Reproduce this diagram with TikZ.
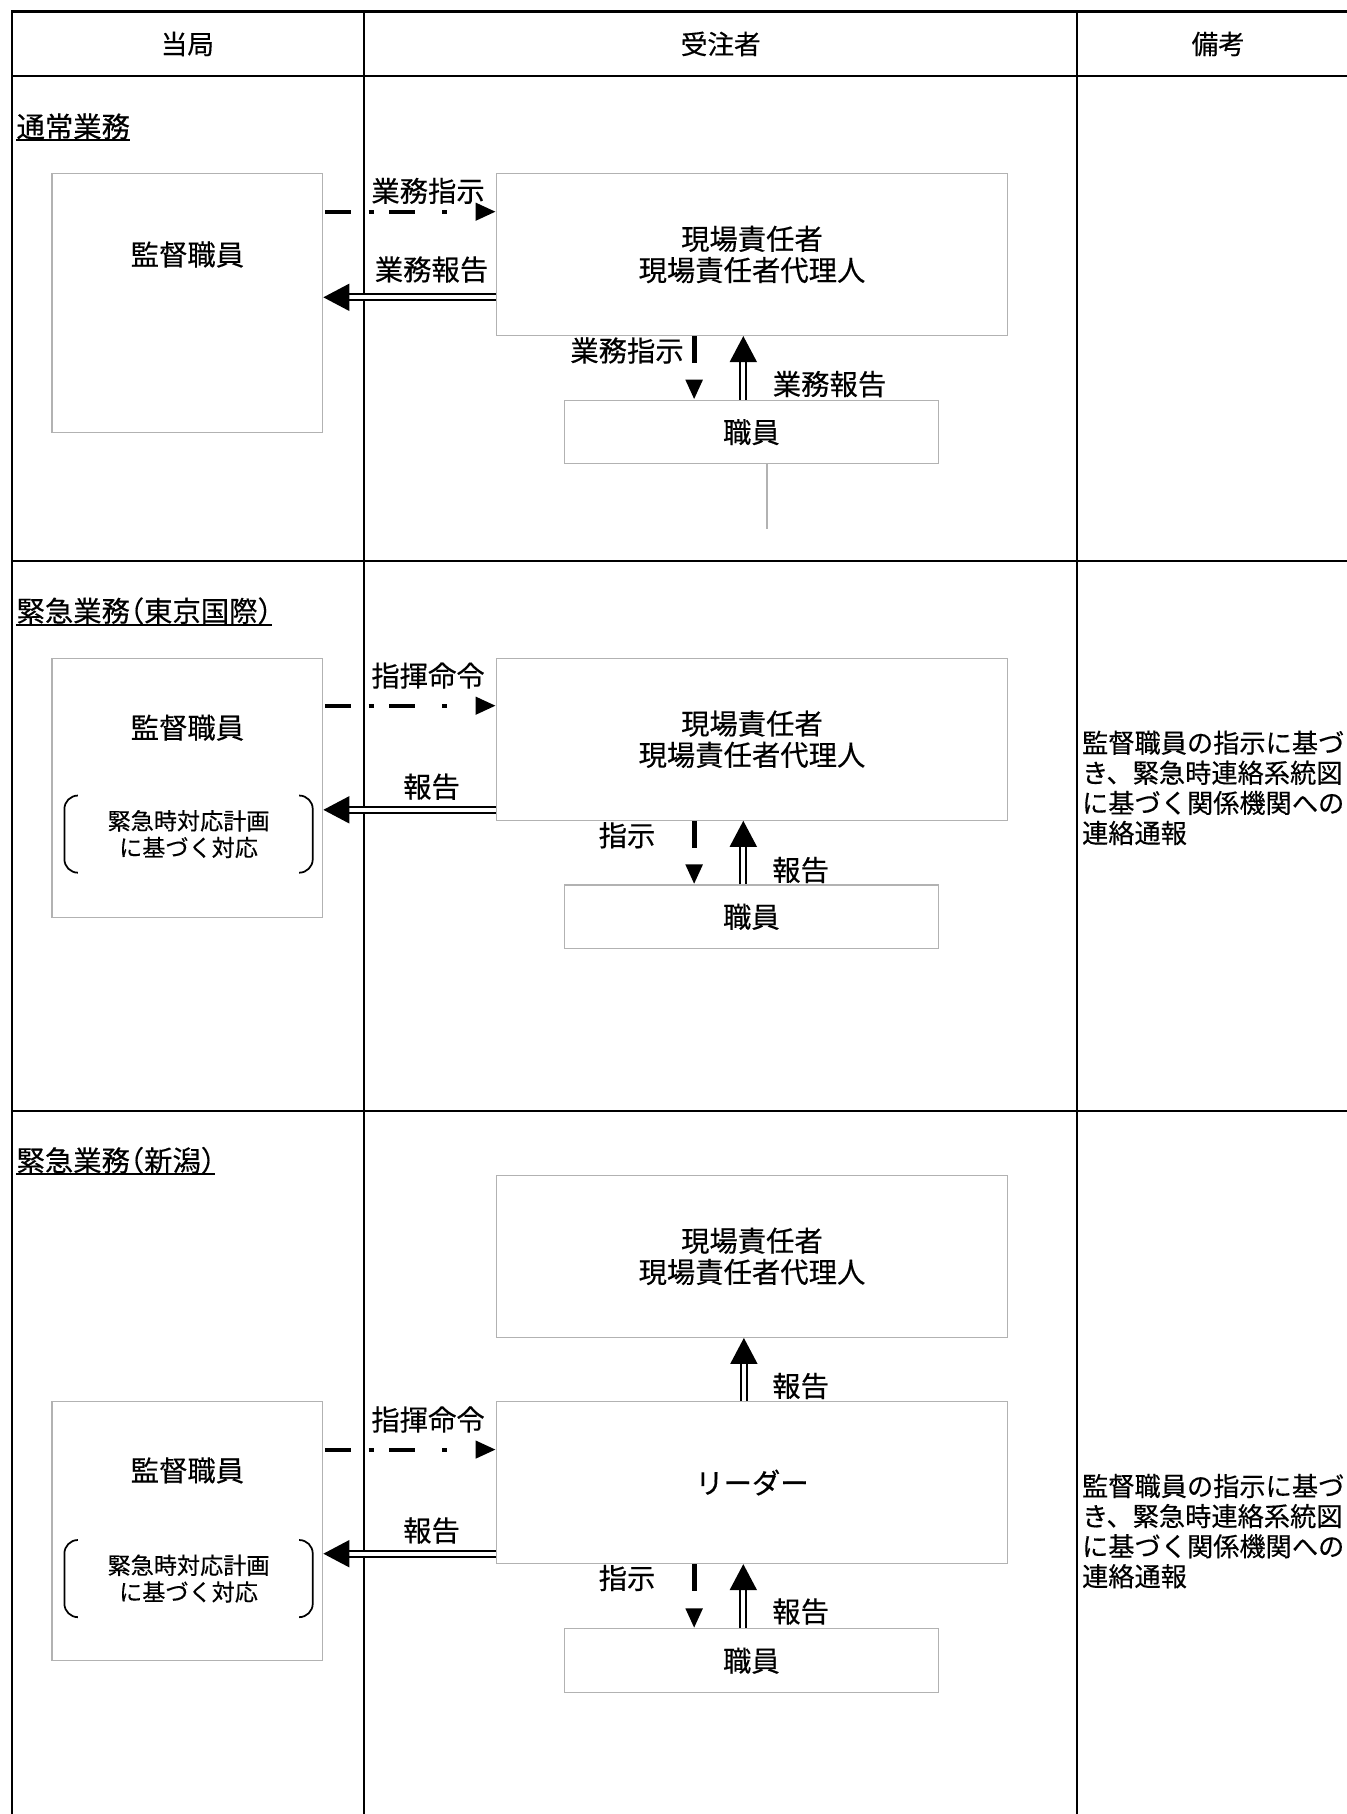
\documentclass[tikz,border=0pt]{standalone}
\usepackage{fontspec}
\setmainfont{Noto Sans CJK JP}[FakeBold=0.35]
\newfontfamily\halffont{Noto Sans CJK JP}[FakeBold=0.35, RawFeature=+halt]
\usetikzlibrary{arrows.meta,positioning,calc}

\begin{document}
\begin{tikzpicture}[x=0.6pt, y=-0.6pt]

  \newcommand{\kakko}[1]{%
    \draw[brk] ($(#1.north west)+(11,0)$) -- (#1.north west) -- (#1.south west) -- ($(#1.south west)+(11,0)$);
    \draw[brk] ($(#1.north east)+(-11,0)$) -- (#1.north east) -- (#1.south east) -- ($(#1.south east)+(-11,0)$);}
  \tikzset{
    tline/.style = {line width=1.1pt},
    txt/.style = {font=\fontsize{14.7pt}{16.2pt}\selectfont, inner sep=1pt},
    hd/.style = {font=\fontsize{13.8pt}{16pt}\selectfont},
    sect/.style = {txt, font=\halffont\fontsize{14.7pt}{16.2pt}\selectfont, anchor=south west, inner sep=0pt},
    uline/.style = {line width=1.2pt},
    kbox/.style = {draw=gray!60, line width=0.6pt, minimum width=140.4pt, minimum height=134.4pt, inner sep=0pt},
    gbox/.style = {txt, draw=gray!60, line width=0.6pt, align=center, minimum width=265.2pt, minimum height=84pt},
    sbox/.style = {txt, draw=gray!60, line width=0.6pt, minimum width=193.8pt, minimum height=33pt},
    bk/.style = {font=\fontsize{12pt}{13.8pt}\selectfont, align=center, minimum width=128.4pt, minimum height=39.6pt, inner sep=0pt},
    brk/.style = {line width=0.9pt, rounded corners=7pt},
    note/.style = {font=\fontsize{13.6pt}{15.6pt}\selectfont, align=left, anchor=west, inner sep=0pt},
    cmd/.style = {line width=2.1pt, shorten <=1pt,
      dash pattern=on 13.5pt off 9pt on 2.6pt off 8pt on 13.5pt off 14pt on 2.6pt off 20pt,
      -{Triangle[length=10.4pt,width=8.8pt]}},
    rep/.style = {double, line width=1pt, double distance=2.2pt,
      -{Triangle[length=13.5pt,width=14pt]}},
    ins/.style = {line width=2.6pt, dash pattern=on 14pt off 20pt,
      -{Triangle[length=10.4pt,width=8.3pt]}},
    stray/.style = {draw=gray!60, line width=0.6pt}
  }

  \useasboundingbox (0,0) rectangle (1164,1568);

  % table
  \draw[tline] (10,1568) -- (10,10) -- (1164,10);
  \draw[tline] (10,66) -- (1164,66);
  \draw[tline] (10,485) -- (1164,485);
  \draw[tline] (10,960) -- (1164,960);
  \draw[tline] (315,10) -- (315,1568);
  \draw[tline] (931,10) -- (931,1568);
  \node[hd] (h1) at (162,38) {当局};
  \node[hd] (h2) at (623,38) {受注者};
  \node[hd] (h3) at (1053,38) {備考};

  % normal work
  \node[sect] (t1) at (14,121) {通常業務};
  \draw[uline] (t1.south west) -- (t1.south east);
  \node[kbox] (ks1) at (162,262) {};
  \node[txt] (kt1) at (162,220) {監督職員};
  \node[gbox] (gb1) at (650,220) {現場責任者\\現場責任者代理人};
  \node[sbox] (sy1) at (649.5,373.5) {職員};
  \coordinate (y1a) at (0,183);
  \coordinate (y1b) at (0,257);
  \draw[cmd] (ks1.east |- y1a) -- (gb1.west |- y1a);
  \draw[rep] (gb1.west |- y1b) -- (ks1.east |- y1b);
  \draw[ins] ([xshift=-30pt]gb1.south) -- ([xshift=-30pt]gb1.south |- sy1.north);
  \draw[rep] ([xshift=-4.2pt]sy1.north) -- ([xshift=-4.2pt]sy1.north |- gb1.south);
  \node[txt] (l1a) at (370,165) {業務指示};
  \node[txt] (l1b) at (373,233) {業務報告};
  \node[txt] (l1c) at (542,303) {業務指示};
  \node[txt] (l1d) at (717,332) {業務報告};
  \coordinate (e1) at (663,457);
  \draw[stray] (sy1.south -| e1) -- (e1);

  % emergency (Tokyo)
  \node[sect] (t2) at (14,540) {緊急業務（東京国際）};
  \draw[uline] (t2.south west) -- (t2.south east);
  \node[kbox] (ks2) at (162,681) {};
  \node[txt] (kt2) at (162,629) {監督職員};
  \node[bk] (bk2) at (163,721) {緊急時対応計画\\に基づく対応};
  \kakko{bk2}
  \node[gbox] (gb2) at (650,639) {現場責任者\\現場責任者代理人};
  \node[sbox] (sy2) at (649.5,792.5) {職員};
  \coordinate (y2a) at (0,610);
  \coordinate (y2b) at (0,700);
  \draw[cmd] (ks2.east |- y2a) -- (gb2.west |- y2a);
  \draw[rep] (gb2.west |- y2b) -- (ks2.east |- y2b);
  \draw[ins] ([xshift=-30pt]gb2.south) -- ([xshift=-30pt]gb2.south |- sy2.north);
  \draw[rep] ([xshift=-4.2pt]sy2.north) -- ([xshift=-4.2pt]sy2.north |- gb2.south);
  \node[txt] (l2a) at (370,584) {指揮命令};
  \node[txt] (l2b) at (373,680) {報告};
  \node[txt] (l2c) at (542,722) {指示};
  \node[txt] (l2d) at (692,752) {報告};
  \node[note] (n2) at (935,681) {監督職員の指示に基づ\\き、緊急時連絡系統図\\に基づく関係機関への\\連絡通報};

  % emergency (Niigata)
  \node[sect] (t3) at (14,1015) {緊急業務（新潟）};
  \draw[uline] (t3.south west) -- (t3.south east);
  \node[gbox] (gb3) at (650,1086) {現場責任者\\現場責任者代理人};
  \node[gbox] (ld3) at (650,1281.5) {リーダー};
  \node[kbox] (ks3) at (162,1323.5) {};
  \node[txt] (kt3) at (162,1271) {監督職員};
  \node[bk] (bk3) at (163,1364.5) {緊急時対応計画\\に基づく対応};
  \kakko{bk3}
  \node[sbox] (sy3) at (649.5,1435.5) {職員};
  \draw[rep] ([xshift=-4.2pt]ld3.north) -- ([xshift=-4.2pt]ld3.north |- gb3.south);
  \coordinate (y3a) at (0,1253);
  \coordinate (y3b) at (0,1343);
  \draw[cmd] (ks3.east |- y3a) -- (ld3.west |- y3a);
  \draw[rep] (ld3.west |- y3b) -- (ks3.east |- y3b);
  \draw[ins] ([xshift=-30pt]ld3.south) -- ([xshift=-30pt]ld3.south |- sy3.north);
  \draw[rep] ([xshift=-4.2pt]sy3.north) -- ([xshift=-4.2pt]sy3.north |- ld3.south);
  \node[txt] (l3a) at (692,1198) {報告};
  \node[txt] (l3b) at (370,1227) {指揮命令};
  \node[txt] (l3c) at (373,1323) {報告};
  \node[txt] (l3d) at (542,1364) {指示};
  \node[txt] (l3e) at (692,1393) {報告};
  \node[note] (n3) at (935,1323.5) {監督職員の指示に基づ\\き、緊急時連絡系統図\\に基づく関係機関への\\連絡通報};

\end{tikzpicture}
\end{document}
